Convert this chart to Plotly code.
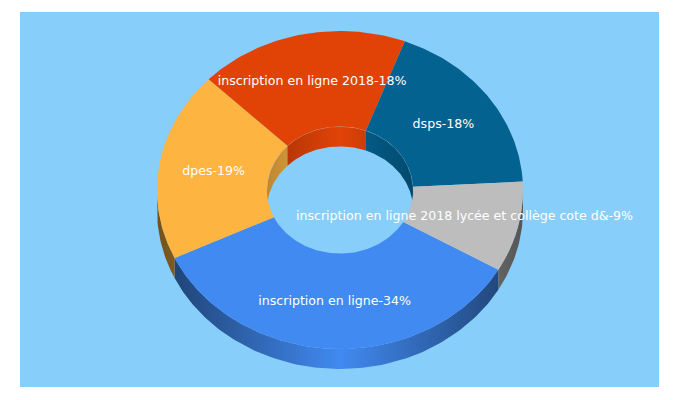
#!/usr/bin/env python3
"""3D style donut of keyword shares, drawn as filled polygons on pixel-like axes."""

import numpy as np
import plotly.graph_objects as go

labels = [
    "inscription en ligne-34%",
    "dpes-19%",
    "inscription en ligne 2018-18%",
    "dsps-18%",
    "inscription en ligne 2018 lycée et collège cote d&-9%",
]
shares = [34.6, 19.3, 18.5, 18.4, 9.2]
colors = ["#418AF1", "#FDB441", "#E14307", "#046291", "#BDBDBD"]

BACKGROUND = "#87CEFA"
START_ANGLE = 120.1  # clockwise from 12 o'clock
CX, CY = 340, 190
RX, RY = 183, 159
HOLE = 0.4
DEPTH = 20
LABEL_RADIUS = 0.7


def arc(start, stop, rx, ry, dy=0):
    """Points along an ellipse arc, angles in degrees clockwise from the top."""
    n = max(2, int(abs(stop - start)) + 2)
    t = np.radians(np.linspace(start, stop, n))
    return CX + rx * np.sin(t), CY + dy - ry * np.cos(t)


def shade(color, factor):
    r, g, b = (int(color[i:i + 2], 16) for i in (1, 3, 5))
    return f"rgb({r * factor:.0f},{g * factor:.0f},{b * factor:.0f})"


def add_polygon(fig, x, y, color=None, gradient=None):
    trace = dict(x=x, y=y, mode="lines", fill="toself", line={"width": 0}, hoverinfo="skip")
    if gradient:
        trace["fillgradient"] = gradient
    else:
        trace["fillcolor"] = color
    fig.add_trace(go.Scatter(**trace))


def side_gradient(color, x0, x1, edge):
    return {
        "type": "horizontal",
        "start": x0,
        "stop": x1,
        "colorscale": [[0, shade(color, edge)], [0.5, color], [1, shade(color, edge)]],
    }


fig = go.Figure()

total = sum(shares)
edges = START_ANGLE + np.concatenate([[0], np.cumsum(shares)]) / total * 360
in_rx, in_ry = RX * HOLE, RY * HOLE

# Outer wall, only the front half of the ring shows
for i, color in enumerate(colors):
    for lo, hi in ((90, 270), (450, 630)):
        a0, a1 = max(edges[i], lo), min(edges[i + 1], hi)
        if a1 <= a0:
            continue
        tx, ty = arc(a0, a1, RX, RY)
        bx, by = arc(a1, a0, RX, RY, DEPTH)
        add_polygon(fig, np.r_[tx, bx], np.r_[ty, by],
                    gradient=side_gradient(color, CX - RX, CX + RX, 0.45))

# Inner wall, only the back half of the hole shows
for i, color in enumerate(colors):
    for lo, hi in ((-90, 90), (270, 450)):
        a0, a1 = max(edges[i], lo), min(edges[i + 1], hi)
        if a1 <= a0:
            continue
        tx, ty = arc(a0, a1, in_rx, in_ry)
        bx, by = arc(a1, a0, in_rx, in_ry, DEPTH)
        add_polygon(fig, np.r_[tx, bx], np.r_[ty, by],
                    gradient=side_gradient(color, CX - in_rx, CX + in_rx, 0.75))
        fig.add_trace(go.Scatter(x=tx, y=ty, mode="lines", hoverinfo="skip",
                                 line={"color": "rgba(255,255,255,0.25)", "width": 1}))

# Top face
for i, color in enumerate(colors):
    ox, oy = arc(edges[i], edges[i + 1], RX, RY)
    ix, iy = arc(edges[i + 1], edges[i], in_rx, in_ry)
    add_polygon(fig, np.r_[ox, ix], np.r_[oy, iy], color=color)

# Labels sit on the slice mid angle
mids = np.radians((edges[:-1] + edges[1:]) / 2)
fig.add_trace(go.Scatter(
    x=CX + LABEL_RADIUS * RX * np.sin(mids),
    y=CY + 0.5 - LABEL_RADIUS * RY * np.cos(mids),
    text=labels,
    mode="text",
    textposition="middle center",
    textfont={"family": "DejaVu Sans", "size": 12.6, "color": "white"},
    hoverinfo="skip",
))

fig.update_layout(
    width=660,
    height=384,
    margin={"l": 12, "r": 9, "t": 4, "b": 5},
    paper_bgcolor="white",
    plot_bgcolor=BACKGROUND,
    showlegend=False,
)
fig.update_xaxes(range=[20, 659], visible=False)
fig.update_yaxes(range=[387, 12], visible=False)

fig.write_html("out.html", config={"displayModeBar": False})
